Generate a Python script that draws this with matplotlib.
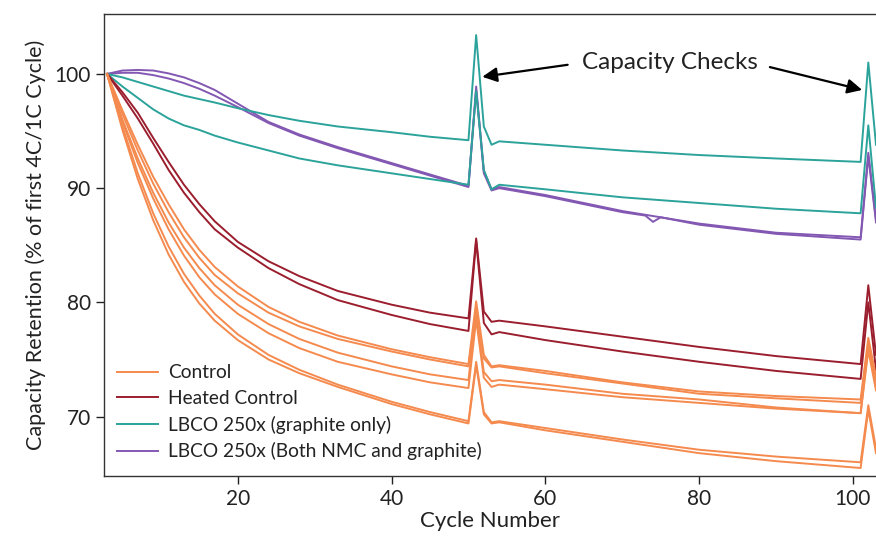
import matplotlib
matplotlib.use('Agg')
import matplotlib.pyplot as plt

plt.rcParams['font.family'] = ['Lato', 'DejaVu Sans']

# cycle numbers shared by most curves
cycles = [3, 5, 7, 9, 11, 13, 15, 17, 20, 24, 28, 33, 40, 45, 50,
          51, 52, 53, 54, 60, 70, 80, 90, 101, 102, 103]
# one purple cell has a small glitch near cycle 74
cycles_p2 = [3, 5, 7, 9, 11, 13, 15, 17, 20, 24, 28, 33, 40, 45, 50,
             51, 52, 53, 54, 60, 70, 73, 74, 75, 80, 90, 101, 102, 103]

control = [
    [100, 96.8, 93.8, 91.0, 88.6, 86.4, 84.6, 83.1, 81.4, 79.6, 78.3, 77.1, 75.9, 75.2, 74.6,
     80.1, 75.4, 74.4, 74.5, 74.0, 73.0, 72.2, 71.8, 71.5, 76.9, 73.5],
    [100, 96.5, 93.3, 90.4, 87.9, 85.7, 83.9, 82.4, 80.8, 79.1, 77.9, 76.8, 75.7, 75.0, 74.4,
     79.5, 75.1, 74.3, 74.4, 73.8, 72.9, 72.0, 71.6, 71.2, 76.5, 73.2],
    [100, 96.0, 92.6, 89.6, 87.0, 84.8, 83.0, 81.5, 79.8, 78.1, 76.8, 75.6, 74.4, 73.7, 73.2,
     79.0, 73.9, 73.1, 73.2, 72.8, 72.0, 71.5, 70.8, 70.3, 76.2, 72.5],
    [100, 95.8, 92.2, 89.1, 86.4, 84.1, 82.2, 80.7, 79.0, 77.3, 76.0, 74.8, 73.7, 73.0, 72.5,
     78.5, 73.4, 72.6, 72.8, 72.4, 71.7, 71.2, 70.7, 70.3, 75.8, 72.3],
    [100, 95.4, 91.3, 87.8, 84.9, 82.5, 80.6, 79.0, 77.2, 75.4, 74.1, 72.8, 71.3, 70.4, 69.6,
     74.8, 70.4, 69.5, 69.6, 69.0, 68.0, 67.1, 66.5, 66.0, 71.0, 67.2],
    [100, 95.1, 90.8, 87.2, 84.2, 81.8, 79.9, 78.4, 76.7, 75.0, 73.8, 72.6, 71.1, 70.2, 69.4,
     74.5, 70.2, 69.4, 69.5, 68.8, 67.8, 66.8, 66.1, 65.5, 70.6, 66.8],
]
heated = [
    [100, 98.4, 96.6, 94.4, 92.3, 90.3, 88.6, 87.1, 85.3, 83.6, 82.3, 81.0, 79.8, 79.1, 78.6,
     85.6, 79.2, 78.3, 78.4, 77.9, 77.0, 76.1, 75.3, 74.6, 81.5, 75.4],
    [100, 98.1, 96.1, 93.9, 91.6, 89.6, 87.9, 86.4, 84.8, 83.0, 81.6, 80.2, 78.9, 78.1, 77.5,
     85.4, 78.2, 77.2, 77.4, 76.7, 75.7, 74.8, 74.0, 73.3, 80.0, 74.1],
]
lbco_graphite = [
    [100, 99.7, 99.3, 98.9, 98.5, 98.1, 97.8, 97.5, 97.0, 96.4, 95.9, 95.4, 94.9, 94.5, 94.2,
     103.4, 95.4, 93.8, 94.1, 93.8, 93.3, 92.9, 92.6, 92.3, 101.0, 93.8],
    [100, 98.9, 97.9, 96.9, 96.1, 95.5, 95.1, 94.6, 94.0, 93.3, 92.6, 92.0, 91.3, 90.8, 90.3,
     98.5, 91.6, 89.9, 90.3, 89.9, 89.2, 88.7, 88.2, 87.8, 95.5, 88.3],
]
lbco_both_1 = [100, 100.3, 100.35, 100.3, 100.05, 99.7, 99.2, 98.6, 97.4, 95.8, 94.7, 93.6, 92.2, 91.2, 90.2,
               98.9, 91.5, 89.9, 90.1, 89.4, 88.0, 86.9, 86.1, 85.7, 93.1, 87.3]
lbco_both_2 = [100, 100.1, 100.1, 99.9, 99.6, 99.2, 98.7, 98.1, 97.1, 95.7, 94.6, 93.5, 92.1, 91.1, 90.1,
               98.6, 91.3, 89.8, 90.0, 89.3, 87.9, 87.6, 87.05, 87.45, 86.8, 86.0, 85.5, 92.8, 87.0]

c_control = '#F58A4E'
c_heated = '#9B1E2E'
c_teal = '#2BA39B'
c_purple = '#8358B3'
lw = 1.4

fig = plt.figure(figsize=(8.76, 5.46), dpi=100)
ax = fig.add_axes([0.1187, 0.1282, 1 - 0.1187, 0.9744 - 0.1282])

h_purple, = ax.plot(cycles, lbco_both_1, color=c_purple, lw=lw)
ax.plot(cycles_p2, lbco_both_2, color=c_purple, lw=lw)
h_teal = None
for y in lbco_graphite:
    h, = ax.plot(cycles, y, color=c_teal, lw=lw)
    h_teal = h_teal or h
h_heated = None
for y in heated:
    h, = ax.plot(cycles, y, color=c_heated, lw=lw)
    h_heated = h_heated or h
h_control = None
for y in control:
    h, = ax.plot(cycles, y, color=c_control, lw=lw)
    h_control = h_control or h

ax.set_xlim(2.6, 103.0)
ax.set_ylim(64.8, 105.25)
ax.set_xticks([20, 40, 60, 80, 100])
ax.set_yticks([70, 80, 90, 100])
ax.tick_params(direction='out', length=6, width=1, labelsize=15, colors='#222222')
for s in ['left', 'bottom', 'top']:
    ax.spines[s].set_linewidth(1.0)
    ax.spines[s].set_color('#333333')
ax.spines['right'].set_visible(False)

ax.set_xlabel('Cycle Number', fontsize=16, labelpad=1, color='#222222')
ax.set_ylabel('Capacity Retention (% of first 4C/1C Cycle)', fontsize=15.5, labelpad=6, color='#222222')

ax.text(76.2, 101.0, 'Capacity Checks', fontsize=17.5, ha='center', va='center', color='#222222')
arrow = dict(arrowstyle='-|>', color='black', lw=1.6, mutation_scale=22, shrinkA=0, shrinkB=0)
ax.annotate('', xy=(51.8, 99.75), xytext=(62.9, 100.8), arrowprops=arrow)
ax.annotate('', xy=(101.2, 98.6), xytext=(89.2, 100.6), arrowprops=arrow)

ax.legend([h_control, h_heated, h_teal, h_purple],
          ['Control', 'Heated Control', 'LBCO 250x (graphite only)', 'LBCO 250x (Both NMC and graphite)'],
          loc='lower left', bbox_to_anchor=(0.0, 0.005), frameon=False, fontsize=13.8,
          handlelength=2.1, handletextpad=0.55, labelspacing=0.45, borderaxespad=0.3,
          labelcolor='#222222')

fig.savefig('out.png', dpi=100)
